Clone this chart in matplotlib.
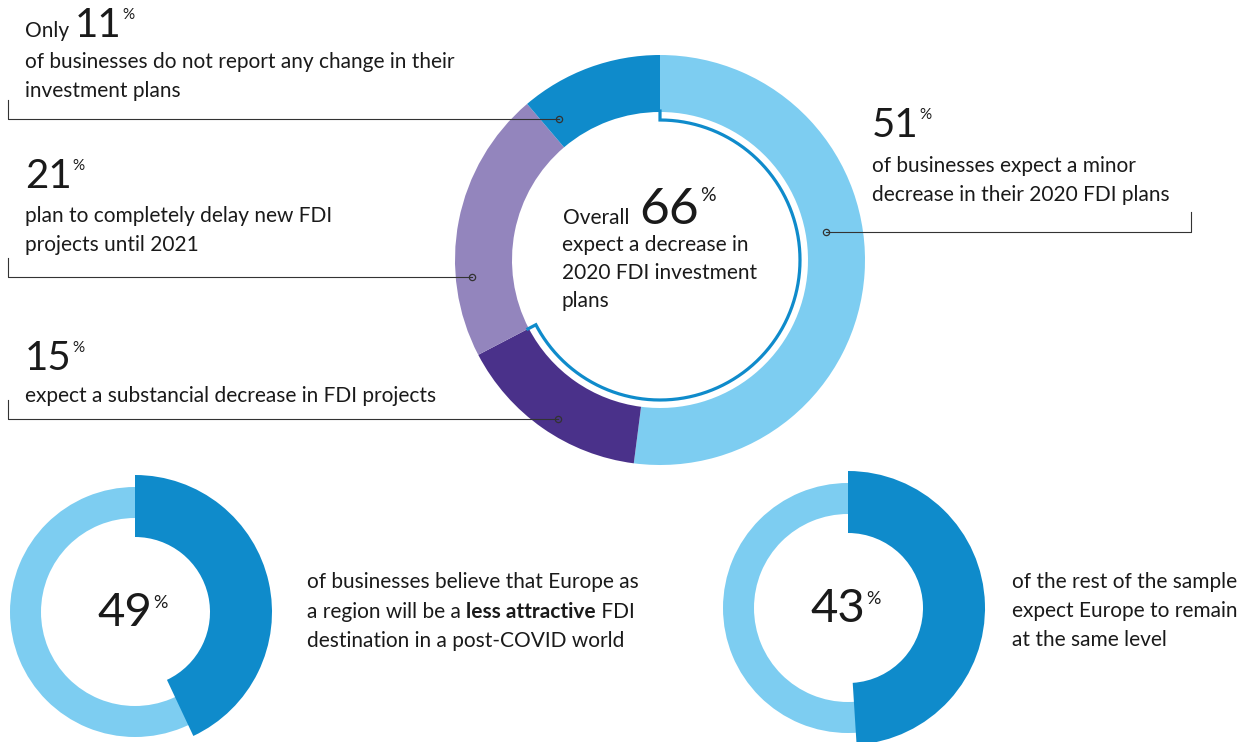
import numpy as np
import matplotlib.pyplot as plt

W, H = 1249, 742

# main ring, clockwise from 12 o'clock
main_labels = ['minor decrease', 'substantial decrease', 'delay until 2021', 'no change']
main_values = [51, 15, 21, 11]
main_colors = ['#7dcdf1', '#4a318a', '#9385bd', '#0f8bcb']
overall_value = 66          # 51 + 15, shown by the thin inner arc

# bottom rings: number printed in the middle / share of the dark arc as drawn
small_values = [49, 43]
small_arcs = [43, 49]

light_blue = '#7dcdf1'
dark_blue = '#0f8bcb'
ink = '#1a1a1a'
BODY = 15

plt.rcParams['font.family'] = ['Lato', 'DejaVu Sans']

fig = plt.figure(figsize=(W / 100, H / 100), dpi=100)
ax = fig.add_axes([0, 0, 1, 1])


def Y(y):
    return H - y


# ---- rings first (ax.pie resets the limits)
cx, cy = 660, 260
ax.pie(main_values, colors=main_colors, startangle=90, counterclock=False,
       radius=205, center=(cx, Y(cy)), wedgeprops=dict(width=57, linewidth=0))

small_centers = [(135, 612), (848, 608)]
for (sx, sy), arc in zip(small_centers, small_arcs):
    ax.pie([1], colors=[light_blue], radius=125, center=(sx, Y(sy)),
           wedgeprops=dict(width=31, linewidth=0))
    ax.pie([arc, 100 - arc], colors=[dark_blue, 'none'], startangle=90,
           counterclock=False, radius=137, center=(sx, Y(sy)),
           wedgeprops=dict(width=62, linewidth=0))

ax.set_xlim(0, W)
ax.set_ylim(0, H)
ax.set_aspect('auto')
ax.axis('off')
renderer = fig.canvas.get_renderer()


def right_edge(t):
    # axes spans the whole figure 1:1, so pixel x == data x
    return t.get_window_extent(renderer).x1


span = 360 * overall_value / sum(main_values)
th = np.radians(90 - np.linspace(0, span, 300))
r = np.concatenate([[149], np.full(300, 140), [149]])
th = np.concatenate([[th[0]], th, [th[-1]]])
ax.plot(cx + r * np.cos(th), Y(cy) + r * np.sin(th), color=dark_blue, lw=2.3,
        solid_joinstyle='miter', zorder=3)

# leader lines: dot on ring -> elbow -> up
leaders = [((559, 119), (8, 100)),
           ((472, 277), (8, 258)),
           ((558, 419), (8, 400)),
           ((826, 232), (1191, 212))]
for (dx, dy), (ex, ey) in leaders:
    ax.plot([dx, ex, ex], [Y(dy), Y(dy), Y(ey)], color='#333333', lw=0.8, zorder=4)
    ax.plot(dx, Y(dy), 'o', ms=4.5, mfc='none', mec='#333333', mew=0.9, zorder=5)


def pct(t, y, size, pct_size, drop=0):
    cap = 0.72 * size * 100 / 72
    pcap = 0.72 * pct_size * 100 / 72
    ax.text(right_edge(t) + 1, y + cap - pcap - drop, '%', fontsize=pct_size,
            color=ink, va='baseline', ha='left')


def big_number(x, y, val, size=29, pct_size=11, prefix=None, gap=6):
    if prefix:
        p = ax.text(x, Y(y), prefix, fontsize=BODY, color=ink, va='baseline', ha='left')
        x = right_edge(p) + gap
    t = ax.text(x, Y(y), str(val), fontsize=size, color=ink,
                va='baseline', ha='left')
    pct(t, Y(y), size, pct_size)


def lines(x, y, rows, step=29, size=BODY):
    for i, row in enumerate(rows):
        ax.text(x, Y(y + i * step), row, fontsize=size, color=ink, va='baseline', ha='left')


big_number(25, 37, main_values[3], prefix='Only')
lines(25, 68, ['of businesses do not report any change in their', 'investment plans'])

big_number(25, 188, main_values[2])
lines(25, 222, ['plan to completely delay new FDI', 'projects until 2021'])

big_number(25, 370, main_values[1])
lines(25, 402, ['expect a substancial decrease in FDI projects'])

big_number(872, 137, main_values[0])
lines(872, 172, ['of businesses expect a minor', 'decrease in their 2020 FDI plans'])

big_number(563, 224, overall_value, size=37, pct_size=14, prefix='Overall', gap=10)
lines(562, 251, ['expect a decrease in', '2020 FDI investment', 'plans'], step=28)

# ---- bottom texts
for (sx, sy), val in zip(small_centers, small_values):
    t = ax.text(sx - 10, Y(sy + 14), str(val), fontsize=34, color=ink,
                va='baseline', ha='center')
    pct(t, Y(sy + 14), 34, 13, drop=3)

lines(307, 588, ['of businesses believe that Europe as'])
t = ax.text(307, Y(618), 'a region will be a ', fontsize=BODY, color=ink,
            va='baseline', ha='left')
b = ax.text(right_edge(t), Y(618), 'less attractive', fontsize=BODY, color=ink,
            fontweight='bold', va='baseline', ha='left')
ax.text(right_edge(b), Y(618), ' FDI', fontsize=BODY, color=ink,
        va='baseline', ha='left')
lines(307, 647, ['destination in a post-COVID world'])

lines(1012, 588, ['of the rest of the sample', 'expect Europe to remain', 'at the same level'])

fig.savefig('out.png', dpi=100, facecolor='white')
